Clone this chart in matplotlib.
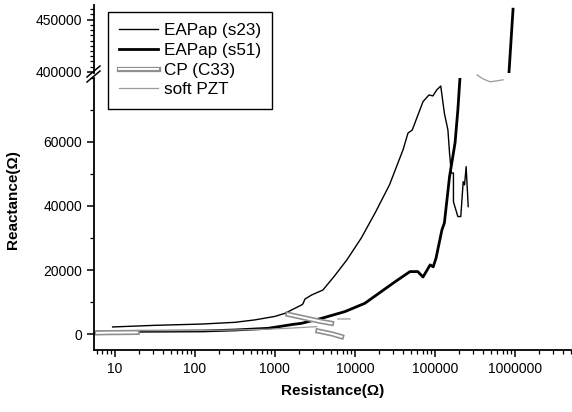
import matplotlib
matplotlib.use("Agg")
import matplotlib.pyplot as plt
import matplotlib.patheffects as pe
from matplotlib.ticker import FixedLocator, FixedFormatter, LogLocator, NullFormatter, MultipleLocator
import numpy as np

plt.rcParams['font.family'] = ['Liberation Sans', 'DejaVu Sans']

# EAPap (s23) - thin black
s23_r = [9.4, 31, 120, 316, 560, 1000, 1330, 2150, 2240, 2370, 2880, 3980, 5500, 7900,
         12000, 18000, 27000, 39800, 46000, 52000, 70800, 84000, 94000, 105000, 118000,
         131000, 145000, 152000, 160000, 170000, 170000, 193000, 210000, 225000, 234000,
         245000, 260000]
s23_x = [2200, 2700, 3100, 3650, 4400, 5500, 6450, 9060, 9400, 10900, 12200, 13750, 18000, 23100,
         30000, 38000, 46600, 57500, 62800, 63750, 72600, 74700, 74400, 76250, 77500,
         69000, 63750, 56500, 50300, 50300, 41300, 36700, 36700, 47600, 46600,
         52300, 39800]

# EAPap (s51) - thick black (lower part)
s51_r = [6.1, 19.4, 126, 316, 820, 1680, 2150, 3830, 7500, 13300, 31600, 48700, 61000,
         70800, 87000, 95000, 103000, 122000, 131000, 152000, 178000, 193000, 205000]
s51_x = [620, 840, 940, 1250, 1770, 3000, 3340, 4900, 7000, 9600, 16300, 19500, 19500,
         17800, 21600, 21000, 23700, 32500, 34700, 49200, 59700, 70000, 80000]
# EAPap (s51) - upper part
s51_hi_r = [841000, 944000]
s51_hi_x = [400000, 460000]

# CP (C33)
cp_r = [6, 8, 12, 19, np.nan, 1460, 2000, 2800, 3800, 5100, np.nan, 3450, 4200, 5200, 6800]
cp_x = [350, 420, 450, 500, np.nan, 6150, 5400, 4600, 3900, 3340, np.nan, 940, 500, 0, -840]

# soft PZT
pzt_r = [19, 40, 100, 250, 750, 1500, 3340, np.nan, 6100, 8700]
pzt_x = [1000, 1050, 1100, 1200, 1470, 1800, 2300, np.nan, 4700, 4700]
pzt_hi_r = [335000, 398000, 487000, 596000, 708000]
pzt_hi_x = [397200, 393400, 390600, 391500, 392500]

x_ticks = [10, 100, 1000, 10000, 100000, 1000000]
x_labels = ['10', '100', '1000', '10000', '100000', '1000000']
y_ticks_lo = [0, 20000, 40000, 60000]
y_ticks_hi = [400000, 450000]

W, H = 572, 412
fig = plt.figure(figsize=(W / 100, H / 100), dpi=100)

left = 94 / W
width = (571 - 94) / W
ax = fig.add_axes([left, (H - 350) / H, width, (350 - 78) / H])
ax_hi = fig.add_axes([left, (H - 73) / H, width, (73 - 5) / H])

cp_fx = [pe.Stroke(linewidth=3.8, foreground='#8f8f8f'), pe.Normal()]

for a in (ax, ax_hi):
    a.set_xscale('log')
    a.set_xlim(5.5, 5e6)
    for s in ('top', 'right'):
        a.spines[s].set_visible(False)
    a.spines['left'].set_linewidth(1.3)
    a.spines['bottom'].set_linewidth(1.3)
    a.tick_params(which='major', direction='out', length=5, width=1.1, labelsize=10)
    a.tick_params(which='minor', direction='out', length=3, width=0.9)

ax.plot(s23_r, s23_x, color='black', lw=1.0, label='EAPap (s23)')
ax.plot(s51_r, s51_x, color='black', lw=2.0, label='EAPap (s51)')
ax.plot(cp_r, cp_x, color='white', lw=1.4, path_effects=cp_fx, label='CP (C33)')
ax.plot(pzt_r, pzt_x, color='#9a9a9a', lw=0.9, label='soft PZT')
ax_hi.plot(s51_hi_r, s51_hi_x, color='black', lw=2.0)
ax_hi.plot(pzt_hi_r, pzt_hi_x, color='#9a9a9a', lw=0.9, clip_on=False)

ax.set_ylim(-5000, 80000)
ax.yaxis.set_major_locator(FixedLocator(y_ticks_lo))
ax.yaxis.set_minor_locator(MultipleLocator(10000))
ax.xaxis.set_major_locator(FixedLocator(x_ticks))
ax.xaxis.set_major_formatter(FixedFormatter(x_labels))
ax.xaxis.set_minor_locator(LogLocator(base=10, subs=np.arange(2, 10), numticks=20))
ax.xaxis.set_minor_formatter(NullFormatter())

ax_hi.set_ylim(399000, 464000)
ax_hi.yaxis.set_major_locator(FixedLocator(y_ticks_hi))
ax_hi.yaxis.set_minor_locator(MultipleLocator(5000))
ax_hi.spines['bottom'].set_visible(False)
ax_hi.tick_params(axis='x', which='both', bottom=False, labelbottom=False)

# axis break marks on the left spine
for dy in (0, 5):
    fig.add_artist(plt.Line2D([(left * W - 7) / W, (left * W + 6) / W],
                              [(H - 82 + dy) / H, (H - 71 + dy) / H],
                              color='black', lw=1.1))

ax.set_xlabel('Resistance(\u03a9)', fontsize=11, fontweight='bold', labelpad=6)
fig.text(13 / W, (H - 200) / H, 'Reactance(\u03a9)', fontsize=11, fontweight='bold',
         rotation=90, ha='center', va='center')

h, l = ax.get_legend_handles_labels()
fig.legend(h, l, loc='upper left', bbox_to_anchor=(108 / W, (H - 12) / H),
           fontsize=12.3, frameon=True, fancybox=False, edgecolor='black', framealpha=1,
           handlelength=2.3, handletextpad=0.3, labelspacing=0.28, borderpad=0.65,
           borderaxespad=0)

fig.savefig('out.png', dpi=100)
